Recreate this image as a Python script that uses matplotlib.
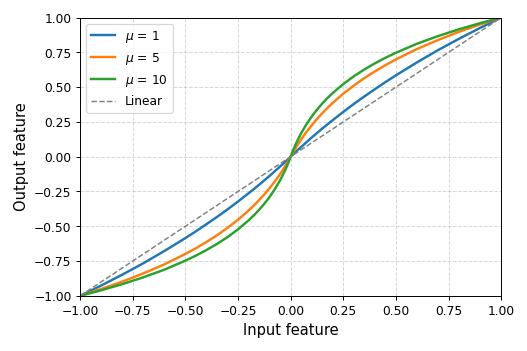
import matplotlib
matplotlib.use("Agg")
import matplotlib.pyplot as plt

# values
x_in = [-1.0, -0.9, -0.8, -0.7, -0.6, -0.5, -0.45, -0.4, -0.35, -0.3, -0.25, -0.2, -0.175, -0.15, -0.125,
        -0.1, -0.075, -0.05, -0.03, -0.02, -0.01,
        0.0, 0.01, 0.02, 0.03, 0.05, 0.075, 0.1, 0.125, 0.15, 0.175, 0.2, 0.25, 0.3, 0.35, 0.4, 0.45,
        0.5, 0.6, 0.7, 0.8, 0.9, 1.0]
y_mu1 = [-1.0, -0.926, -0.848, -0.766, -0.678, -0.585, -0.536, -0.485, -0.433, -0.379, -0.322, -0.263, -0.233, -0.202, -0.170,
         -0.138, -0.104, -0.070, -0.043, -0.029, -0.014,
         0.0, 0.014, 0.029, 0.043, 0.070, 0.104, 0.138, 0.170, 0.202, 0.233, 0.263, 0.322, 0.379, 0.433, 0.485, 0.536,
         0.585, 0.678, 0.766, 0.848, 0.926, 1.0]
y_mu5 = [-1.0, -0.951, -0.898, -0.839, -0.774, -0.699, -0.658, -0.613, -0.565, -0.511, -0.453, -0.387, -0.351, -0.312, -0.271,
         -0.226, -0.178, -0.125, -0.078, -0.053, -0.027,
         0.0, 0.027, 0.053, 0.078, 0.125, 0.178, 0.226, 0.271, 0.312, 0.351, 0.387, 0.453, 0.511, 0.565, 0.613, 0.658,
         0.699, 0.774, 0.839, 0.898, 0.951, 1.0]
y_mu10 = [-1.0, -0.960, -0.916, -0.867, -0.812, -0.747, -0.711, -0.671, -0.627, -0.578, -0.522, -0.458, -0.422, -0.382, -0.338,
          -0.289, -0.233, -0.169, -0.109, -0.076, -0.040,
          0.0, 0.040, 0.076, 0.109, 0.169, 0.233, 0.289, 0.338, 0.382, 0.422, 0.458, 0.522, 0.578, 0.627, 0.671, 0.711,
          0.747, 0.812, 0.867, 0.916, 0.960, 1.0]
linear_x = [-1.0, 1.0]
linear_y = [-1.0, 1.0]
ticks = [-1, -0.75, -0.5, -0.25, 0, 0.25, 0.5, 0.75, 1]

dpi = 527 / 6
fig = plt.figure(figsize=(6, 4), dpi=dpi)
ax = fig.add_axes([0.152, 0.157, 0.799, 0.792])

ax.plot(x_in, y_mu1, color="#1f77b4", lw=2, label=r"$\mu$ = 1")
ax.plot(x_in, y_mu5, color="#ff7f0e", lw=2, label=r"$\mu$ = 5")
ax.plot(x_in, y_mu10, color="#2ca02c", lw=2, label=r"$\mu$ = 10")
ax.plot(linear_x, linear_y, "--", color="gray", lw=1.2, label="Linear")

ax.set_xlim(-1, 1)
ax.set_ylim(-1, 1)
ax.set_xticks(ticks)
ax.set_yticks(ticks)
ax.grid(True, linestyle="--", alpha=0.5)
ax.set_xlabel("Input feature", fontsize=12)
ax.set_ylabel("Output feature", fontsize=12)
ax.legend(loc="upper left")

fig.savefig("out.png", dpi=dpi)
